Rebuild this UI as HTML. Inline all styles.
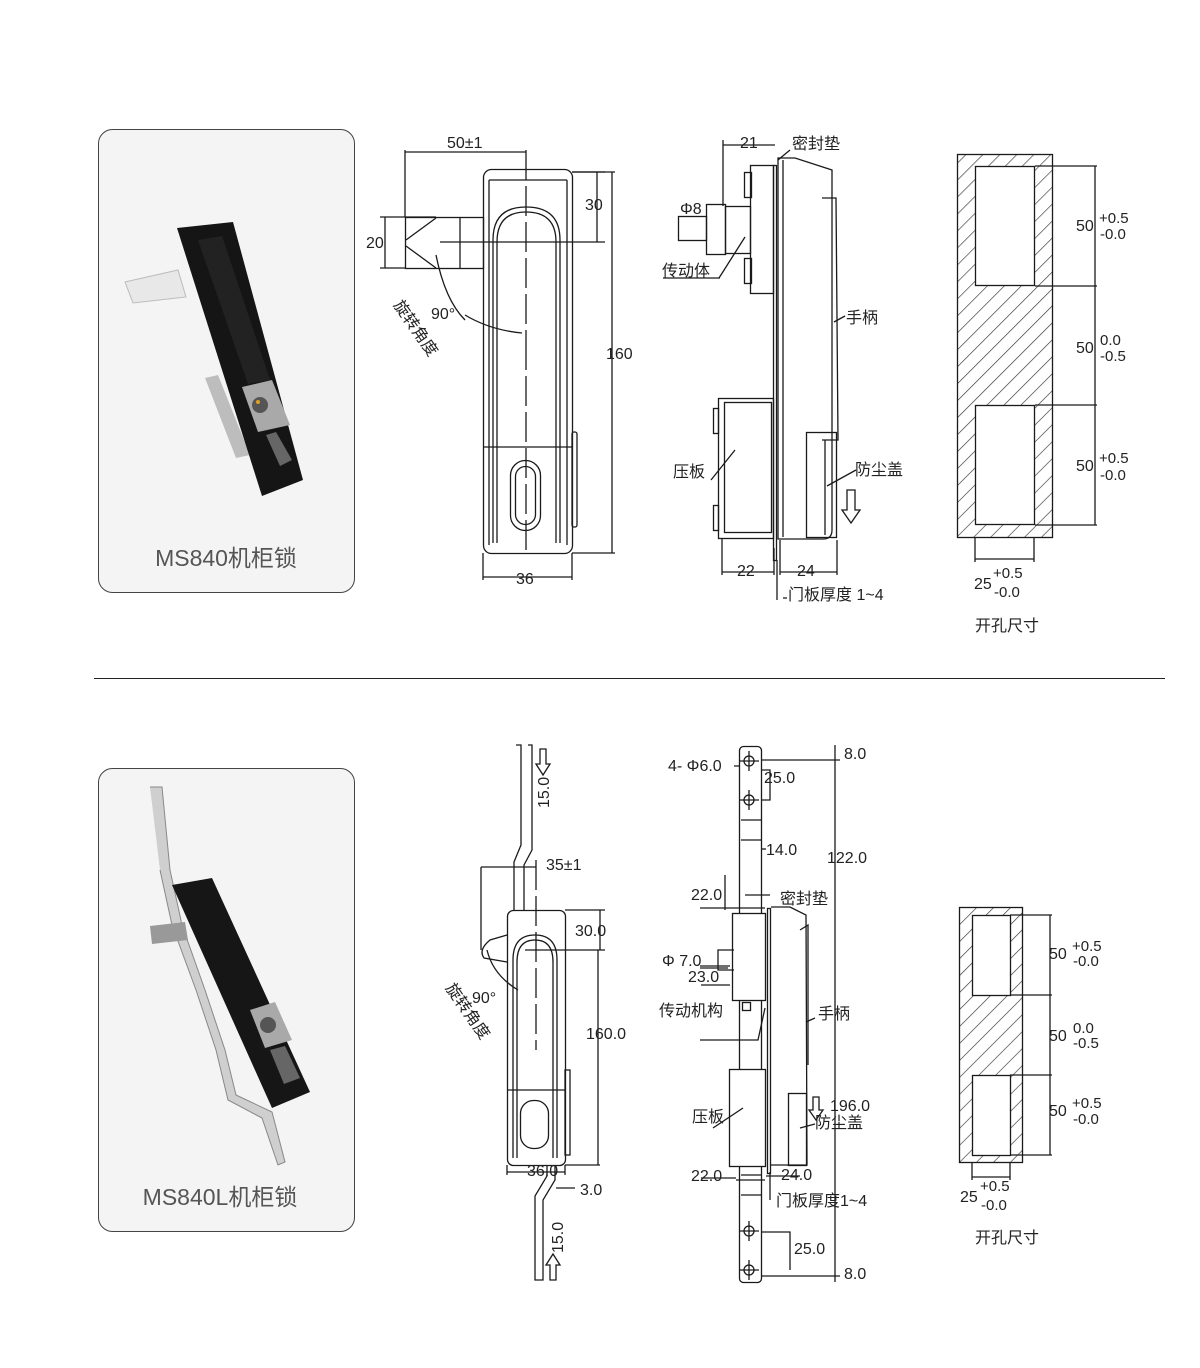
<!DOCTYPE html>
<html><head><meta charset="utf-8"><style>
body{margin:0;background:#fff;}
svg{display:block;font-family:"Liberation Sans","Noto Sans CJK SC",sans-serif;}
</style></head><body>
<svg width="1200" height="1368" viewBox="0 0 1200 1368" xmlns="http://www.w3.org/2000/svg">
<defs>
<pattern id="h" patternUnits="userSpaceOnUse" width="12" height="12" patternTransform="rotate(45)">
<rect width="12" height="12" fill="#fff"/><line x1="0" y1="0" x2="0" y2="12" stroke="#333" stroke-width="1.3"/>
</pattern>
</defs>
<rect width="1200" height="1368" fill="#fff"/>

<rect x="98.5" y="129.5" width="256" height="463" rx="14" fill="#f4f4f4" stroke="#444"/>
<rect x="98.5" y="768.5" width="256" height="463" rx="14" fill="#f4f4f4" stroke="#444"/>
<line x1="94" y1="678.5" x2="1165" y2="678.5" stroke="#222"/>
<text x="226" y="566" font-size="23" fill="#555" text-anchor="middle">MS840机柜锁</text>
<text x="220" y="1205" font-size="23" fill="#555" text-anchor="middle">MS840L机柜锁</text>

<!-- photo 1 -->
<polygon points="125,282 178,270 186,297 133,303" fill="#e8e8e8" stroke="#bbb"/>
<polygon points="205,378 218,375 250,455 236,458" fill="#bdbdbd"/>
<polygon points="177,228 233,222 303,480 262,496" fill="#151515"/>
<polygon points="198,240 222,236 270,380 248,384" fill="#222"/>
<polygon points="242,387 272,380 290,425 258,432" fill="#a9a9a9"/>
<circle cx="260" cy="405" r="8" fill="#555"/><circle cx="258" cy="402" r="2" fill="#e0a020"/>
<polygon points="266,435 276,432 292,460 280,466" fill="#666"/>

<!-- photo 2 -->
<polyline points="150,787 162,787 170,870 182,925 205,990 225,1050 236,1095 272,1112 285,1162 278,1165 262,1118 228,1100 216,1050 196,990 172,925 160,870" fill="#cfcfcf" stroke="#888"/>
<polygon points="150,926 185,922 188,940 152,944" fill="#999"/>
<polygon points="172,885 212,878 310,1092 272,1108" fill="#161616"/>
<polygon points="250,1010 275,1002 292,1040 265,1048" fill="#a9a9a9"/>
<circle cx="268" cy="1025" r="8" fill="#555"/>
<polygon points="270,1050 285,1046 300,1078 284,1084" fill="#666"/>

<g stroke="#1a1a1a" fill="none" stroke-width="1.3">
<rect x="483.5" y="169.5" width="89" height="384" rx="8" fill="#fff"/>
<path d="M489 180 L567 180 M489 180 L489 545 M567 180 L567 545"/>
<path d="M493 543 L493 240 Q493 207 526 207 Q560 207 560 240 L560 543"/>
<path d="M497 543 L497 242 Q497 212 526 212 Q556 212 556 242 L556 543"/>
<line x1="483" y1="447" x2="572" y2="447"/>
<rect x="510.5" y="460.5" width="30" height="70" rx="15"/>
<rect x="515.5" y="466.5" width="20" height="58" rx="10"/>
<rect x="572" y="432" width="5" height="95" rx="2"/>
<rect x="405.5" y="217.5" width="78" height="51"/>
<line x1="460" y1="217" x2="460" y2="268"/>
<path d="M405 217 L436 217 M406 240 L436 218 M406 246 L436 268"/>
<line x1="526" y1="150" x2="526" y2="340" stroke-dasharray="30,6"/>
<line x1="526" y1="340" x2="526" y2="555" stroke-dasharray="30,6"/>
<path d="M405 150 L405 217 M405 152 L526 152"/>
<path d="M572 172 L605 172 M597 172 L597 242 M440 242 L605 242"/>
<path d="M572 553 L615 553 M612 172 L612 553 M572 172 L615 172"/>
<path d="M483 553 L483 580 M572 553 L572 580 M483 577 L572 577"/>
<path d="M405 217 L380 217 M405 268 L380 268 M385 217 L385 268"/>
<path d="M436 255 Q445 300 465 320"/>
<path d="M465 315 Q490 330 522 333"/>

<rect x="773.5" y="165.5" width="3" height="395"/>
<path d="M778 158 L795 158 L832 170 L832 530 Q832 539 823 539 L778 539 Z" fill="#fff"/>
<line x1="783" y1="160" x2="783" y2="537"/>
<path d="M822 198 L836 198 L838 440 L822 440"/>
<rect x="806.5" y="432.5" width="30" height="105"/>
<line x1="825" y1="440" x2="825" y2="535"/>
<rect x="750.5" y="165.5" width="23" height="128"/>
<rect x="744.5" y="172.5" width="7" height="25"/>
<rect x="744.5" y="258.5" width="7" height="25"/>
<rect x="725.5" y="206.5" width="25" height="47"/>
<rect x="706.5" y="204.5" width="19" height="50"/>
<rect x="678.5" y="216.5" width="28" height="24"/>
<rect x="718.5" y="398.5" width="55" height="140"/>
<rect x="724.5" y="402.5" width="47" height="130"/>
<rect x="713.5" y="408.5" width="5" height="25"/>
<rect x="713.5" y="505.5" width="5" height="25"/>
<path d="M723 140 L723 206 M723 145 L775 145"/>
<path d="M722 538 L722 575 M774 548 L774 575 M722 572 L774 572"/>
<path d="M780 540 L780 575 M837 540 L837 575 M780 572 L837 572"/>
<path d="M777 560 L777 600 M783 598 L787 598"/>
<path d="M720 278 L663 278 M719 278 L745 237"/>
<path d="M778 160 L790 150"/>
<path d="M834 322 L845 316"/>
<path d="M711 480 L735 450"/>
<path d="M827 486 L856 470"/>
<path d="M847 490 L847 510 L842 510 L851 523 L860 510 L855 510 L855 490 Z"/>

<rect x="957.5" y="154.5" width="95" height="383" fill="url(#h)"/>
<rect x="975.5" y="166.5" width="59" height="119" fill="#fff"/>
<rect x="975.5" y="405.5" width="59" height="119" fill="#fff"/>
<path d="M1035 166 L1097 166 M1035 286 L1097 286 M1035 405 L1097 405 M1035 525 L1097 525 M1095 166 L1095 525"/>
<path d="M975 537 L975 562 M1034 537 L1034 562 M975 559 L1034 559"/>

<path d="M516 745 L521 745 L521 845 L514 862 L514 910 M528 745 L532 745 L532 850 L524 865 L524 910"/>
<rect x="507.5" y="910.5" width="58" height="255" rx="6" fill="#fff"/>
<path d="M513 1158 L513 960 Q513 935 535 935 Q557 935 557 960 L557 1158"/>
<path d="M517 1158 L517 962 Q517 940 535 940 Q553 940 553 962 L553 1158"/>
<line x1="507" y1="1090" x2="565" y2="1090"/>
<rect x="520.5" y="1100.5" width="28" height="48" rx="13"/>
<rect x="565" y="1070" width="5" height="85"/>
<path d="M507 935 L490 940 Q478 950 484 958 L507 962"/>
<path d="M547 1165 L547 1176 L535 1196 L535 1280 L543 1280 L543 1200 L555 1180 L555 1165"/>
<line x1="536" y1="860" x2="536" y2="1050" stroke-dasharray="30,6"/>
<path d="M481 867 L536 867 M481 867 L481 950"/>
<path d="M565 910 L605 910 M600 910 L600 950 M525 950 L605 950"/>
<path d="M565 1165 L600 1165 M598 950 L598 1165"/>
<path d="M507 1165 L507 1175 M565 1165 L565 1175 M507 1172 L565 1172"/>
<path d="M556 1188 L575 1188"/>
<path d="M487 950 Q493 975 518 990"/>
<path d="M540 749 L540 764 L536 764 L543 775 L550 764 L546 764 L546 749 Z"/>
<path d="M550 1280 L550 1265 L546 1265 L553 1254 L560 1265 L556 1265 L556 1280 Z"/>

<rect x="739.5" y="746.5" width="22" height="536" rx="4" fill="#fff"/>
<circle cx="749" cy="761" r="5"/><circle cx="749" cy="800" r="5"/><circle cx="749" cy="1231" r="5"/><circle cx="749" cy="1270" r="5"/>
<path d="M739 761 L759 761 M749 751 L749 771 M739 800 L759 800 M749 790 L749 810 M739 1231 L759 1231 M749 1221 L749 1241 M739 1270 L759 1270 M749 1260 L749 1280"/>
<path d="M741 820 L761 820 M741 840 L761 840 M741 1175 L761 1175 M741 1195 L761 1195"/>
<rect x="732.5" y="913.5" width="33" height="87" fill="#fff"/>
<rect x="742.5" y="1002.5" width="8" height="8"/>
<rect x="767.5" y="908.5" width="3" height="265"/>
<path d="M771 907 L790 907 L806 915 L807 1165 L771 1165"/>
<path d="M800 930 L808 925 L808 1065"/>
<rect x="788.5" y="1093.5" width="18" height="72"/>
<rect x="729.5" y="1069.5" width="36" height="97" fill="#fff"/>
<path d="M725 875 L725 910 M745 895 L770 895 M700 908 L765 908"/>
<path d="M700 966 L730 966 M700 968 L728 968"/>
<path d="M734 950 L718 950 L718 970 L734 970"/>
<path d="M701 985 L730 985"/>
<path d="M736 1180 L765 1180 M701 1178 L736 1178"/>
<path d="M766 1176 L800 1176"/>
<path d="M770 1172 L770 1200"/>
<path d="M765 1008 L758 1040 L700 1040"/>
<path d="M734 766 L739 766 M761 760 L840 760 M761 1276 L840 1276 M835 745 L835 1282"/>
<path d="M761 770 L770 770 L770 800 L761 800"/>
<path d="M761 1232 L790 1232 L790 1270"/>
<path d="M761 849 L766 849"/>
<path d="M806 1022 L815 1018"/>
<path d="M800 1128 L815 1124"/>
<path d="M713 1128 L743 1108"/>
<path d="M813 1097 L813 1110 L809 1110 L816 1120 L823 1110 L819 1110 L819 1097 Z"/>

<rect x="959.5" y="907.5" width="63" height="255" fill="url(#h)"/>
<rect x="972.5" y="915.5" width="38" height="80" fill="#fff"/>
<rect x="972.5" y="1075.5" width="38" height="80" fill="#fff"/>
<path d="M1010 915 L1052 915 M1010 995 L1052 995 M1010 1075 L1052 1075 M1010 1155 L1052 1155 M1050 915 L1050 1155"/>
<path d="M972 1162 L972 1180 M1010 1162 L1010 1180 M972 1177 L1010 1177"/>
</g>

<g fill="#222" font-size="16">
<text x="447" y="148">50±1</text>
<text x="585" y="210">30</text>
<text x="606" y="359">160</text>
<text x="516" y="584">36</text>
<text x="366" y="248">20</text>
<text x="431" y="319">90°</text>
<text transform="translate(393,305) rotate(55)">旋转角度</text>
<text x="740" y="148">21</text>
<text x="792" y="149">密封垫</text>
<text x="680" y="214">Φ8</text>
<text x="662" y="276">传动体</text>
<text x="846" y="323">手柄</text>
<text x="673" y="477">压板</text>
<text x="855" y="475">防尘盖</text>
<text x="737" y="576">22</text>
<text x="797" y="576">24</text>
<text x="788" y="600">门板厚度  1~4</text>
<text x="1076" y="231">50</text><text x="1099" y="223" font-size="15">+0.5</text><text x="1100" y="239" font-size="15">-0.0</text>
<text x="1076" y="353">50</text><text x="1100" y="345" font-size="15">0.0</text><text x="1100" y="361" font-size="15">-0.5</text>
<text x="1076" y="471">50</text><text x="1099" y="463" font-size="15">+0.5</text><text x="1100" y="480" font-size="15">-0.0</text>
<text x="974" y="589">25</text><text x="993" y="578" font-size="15">+0.5</text><text x="994" y="597" font-size="15">-0.0</text>
<text x="975" y="631">开孔尺寸</text>

<text transform="translate(549,808) rotate(-90)">15.0</text>
<text x="546" y="870">35±1</text>
<text x="575" y="936">30.0</text>
<text x="586" y="1039">160.0</text>
<text x="527" y="1176">36.0</text>
<text x="580" y="1195">3.0</text>
<text transform="translate(563,1253) rotate(-90)">15.0</text>
<text x="472" y="1003">90°</text>
<text transform="translate(445,988) rotate(55)">旋转角度</text>
<text x="668" y="771">4- Φ6.0</text>
<text x="764" y="783">25.0</text>
<text x="766" y="855">14.0</text>
<text x="827" y="863">122.0</text>
<text x="844" y="759">8.0</text>
<text x="691" y="900">22.0</text>
<text x="780" y="904">密封垫</text>
<text x="662" y="966">Φ 7.0</text>
<text x="688" y="982">23.0</text>
<text x="659" y="1016">传动机构</text>
<text x="818" y="1019">手柄</text>
<text x="830" y="1111">196.0</text>
<text x="815" y="1128">防尘盖</text>
<text x="692" y="1122">压板</text>
<text x="691" y="1181">22.0</text>
<text x="781" y="1180">24.0</text>
<text x="776" y="1206">门板厚度1~4</text>
<text x="794" y="1254">25.0</text>
<text x="844" y="1279">8.0</text>
<text x="1049" y="959">50</text><text x="1072" y="951" font-size="15">+0.5</text><text x="1073" y="966" font-size="15">-0.0</text>
<text x="1049" y="1041">50</text><text x="1073" y="1033" font-size="15">0.0</text><text x="1073" y="1048" font-size="15">-0.5</text>
<text x="1049" y="1116">50</text><text x="1072" y="1108" font-size="15">+0.5</text><text x="1073" y="1124" font-size="15">-0.0</text>
<text x="960" y="1202">25</text><text x="980" y="1191" font-size="15">+0.5</text><text x="981" y="1210" font-size="15">-0.0</text>
<text x="975" y="1243">开孔尺寸</text>
</g>
</svg>
</body></html>
